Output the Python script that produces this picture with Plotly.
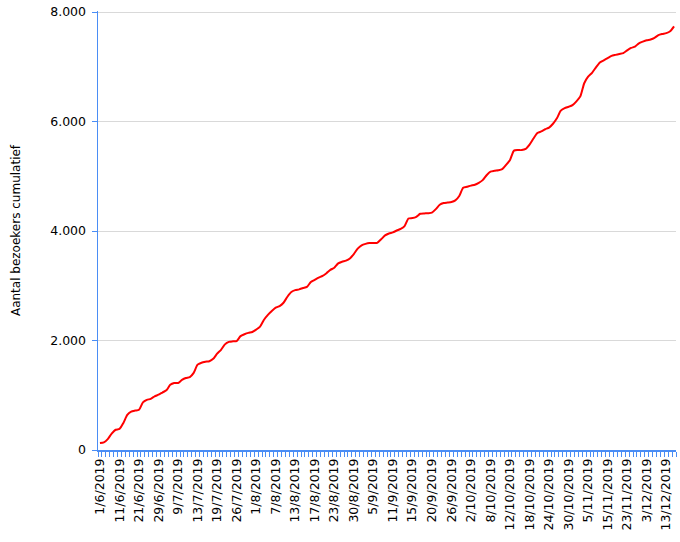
import plotly.graph_objects as go

# Tick labels shown on the category axis (one every 5 categories)
tick_labels = [
    "1/6/2019", "11/6/2019", "21/6/2019", "29/6/2019", "9/7/2019", "13/7/2019",
    "19/7/2019", "26/7/2019", "1/8/2019", "7/8/2019", "13/8/2019", "17/8/2019",
    "23/8/2019", "30/8/2019", "5/9/2019", "11/9/2019", "15/9/2019", "20/9/2019",
    "26/9/2019", "2/10/2019", "8/10/2019", "12/10/2019", "18/10/2019", "24/10/2019",
    "30/10/2019", "5/11/2019", "15/11/2019", "23/11/2019", "3/12/2019", "13/12/2019",
]
label_step = 5

# Cumulative visitor counts
visitors_cumulative = [
    128, 140, 200, 300, 370, 385, 495, 640, 700, 720,
    735, 870, 915, 935, 980, 1010, 1050, 1090, 1190, 1225,
    1225, 1280, 1315, 1333, 1410, 1560, 1595, 1612, 1622, 1665,
    1760, 1830, 1930, 1975, 1985, 1990, 2080, 2115, 2140, 2155,
    2200, 2255, 2380, 2470, 2540, 2600, 2630, 2690, 2800, 2886,
    2920, 2935, 2960, 2980, 3070, 3110, 3150, 3180, 3230, 3290,
    3330, 3410, 3440, 3460, 3500, 3580, 3680, 3740, 3765, 3780,
    3781, 3785, 3850, 3920, 3955, 3975, 4010, 4040, 4090, 4230,
    4237, 4260, 4315, 4322, 4326, 4335, 4400, 4480, 4511, 4520,
    4530, 4560, 4640, 4790, 4810, 4830, 4845, 4880, 4930, 5020,
    5085, 5100, 5110, 5130, 5210, 5300, 5470, 5479, 5479, 5500,
    5580, 5690, 5790, 5820, 5860, 5890, 5960, 6060, 6200, 6245,
    6270, 6300, 6370, 6460, 6700, 6820, 6890, 6990, 7080, 7120,
    7160, 7200, 7218, 7235, 7250, 7300, 7345, 7370, 7430, 7460,
    7485, 7500, 7530, 7580, 7600, 7615, 7650, 7740,
]

y_title = "Aantal bezoekers cumulatief"

n = len(visitors_cumulative)
x_idx = list(range(n))
tick_positions = [i * label_step for i in range(len(tick_labels))]

axis_blue = "#4a8df5"
font_family = "'DejaVu Sans', sans-serif"

fig = go.Figure()
fig.add_trace(go.Scatter(
    x=x_idx,
    y=visitors_cumulative,
    mode="lines",
    line=dict(color="#ff0000", width=2, shape="spline", smoothing=0.6),
    hoverinfo="skip",
    showlegend=False,
    cliponaxis=False,
))

fig.update_layout(
    width=680,
    height=542,
    margin=dict(l=98, r=4, t=11, b=92, pad=0, autoexpand=False),
    paper_bgcolor="white",
    plot_bgcolor="white",
    separators=",.",
    font=dict(family=font_family, size=13, color="#000000"),
)

fig.update_xaxes(
    range=[-0.5, n - 0.5],
    automargin=False,
    tickmode="array",
    tickvals=tick_positions,
    ticktext=tick_labels,
    tickangle=-90,
    ticks="",
    showgrid=False,
    zeroline=False,
    showline=True,
    linecolor=axis_blue,
    linewidth=1.5,
    tickfont=dict(size=12.5),
    ticklabelstandoff=2,
    ticklabeloverflow="allow",
    minor=dict(tickmode="linear", tick0=-0.5, dtick=1, ticks="outside",
               ticklen=5, tickcolor=axis_blue, tickwidth=1, showgrid=False),
)

fig.update_yaxes(
    range=[0, 8020],
    automargin=False,
    tick0=0,
    dtick=2000,
    tickformat=",.0f",
    showgrid=True,
    gridcolor="#d9d9d9",
    gridwidth=1,
    zeroline=False,
    showline=True,
    linecolor=axis_blue,
    linewidth=1.5,
    ticks="outside",
    ticklen=5,
    tickcolor=axis_blue,
    tickfont=dict(size=12.5),
    ticklabelstandoff=3,
    ticklabeloverflow="allow",
    title=dict(text=y_title, font=dict(size=12), standoff=27),
)

# Remove the browser's default 8px body margin so the figure fills the window.
fig.write_html(
    "out.html",
    config={"displayModeBar": False, "staticPlot": True},
    post_script="document.body.style.margin='0';document.body.style.overflow='hidden';",
)
